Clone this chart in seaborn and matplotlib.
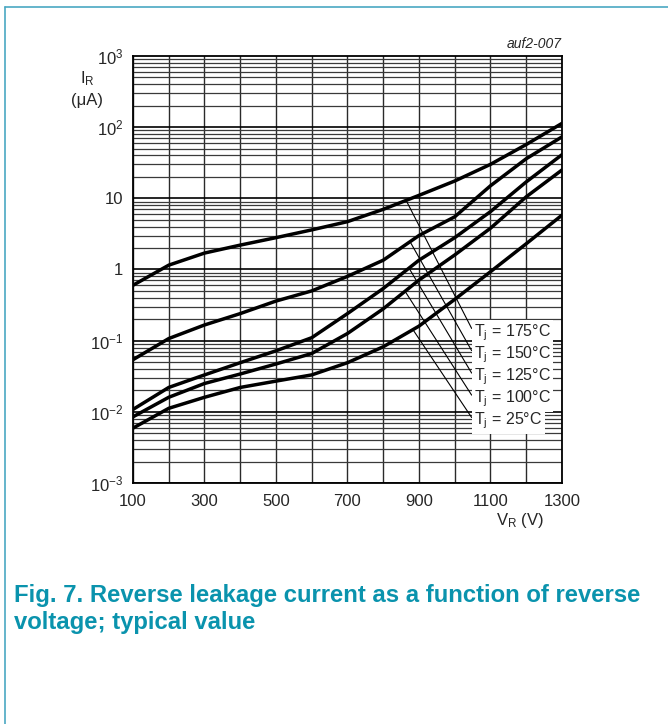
import numpy as np
import pandas as pd
import matplotlib
matplotlib.use('Agg')
import matplotlib.pyplot as plt
from matplotlib.lines import Line2D
import seaborn as sns

# ---------- DATA ----------
V_R = [100, 200, 300, 400, 500, 600, 700, 800, 900, 1000, 1100, 1200, 1300]
I_175 = [0.6, 1.15, 1.7, 2.2, 2.8, 3.6, 4.7, 7.0, 11, 17.5, 30, 57, 113]
I_150 = [0.054, 0.107, 0.166, 0.24, 0.36, 0.5, 0.8, 1.35, 3.0, 5.5, 15, 36, 73]
I_125 = [0.0108, 0.022, 0.033, 0.049, 0.072, 0.11, 0.24, 0.54, 1.35, 2.8, 6.5, 17, 41]
I_100 = [0.0085, 0.016, 0.025, 0.034, 0.047, 0.066, 0.126, 0.28, 0.71, 1.6, 3.8, 10.5, 25]
I_25 = [0.0059, 0.0112, 0.016, 0.022, 0.027, 0.033, 0.049, 0.082, 0.16, 0.38, 0.93, 2.3, 5.8]

temps = ['175', '150', '125', '100', '25']
series = [I_175, I_150, I_125, I_100, I_25]
# voltage where each leader line leaves its curve
leader_v = [864, 875, 872, 861, 883]

y_ticks = [1e-3, 1e-2, 1e-1, 1, 10, 1e2, 1e3]
y_ticklabels = ['10$^\\mathregular{-3}$', '10$^\\mathregular{-2}$', '10$^\\mathregular{-1}$',
                '1', '10', '10$^\\mathregular{2}$', '10$^\\mathregular{3}$']
x_ticks = [100, 300, 500, 700, 900, 1100, 1300]

TEAL = '#0a93ad'

df = pd.concat([pd.DataFrame({'V': V_R, 'I': s, 'T': t}) for t, s in zip(temps, series)])

# ---------- PLOT ----------
sns.set_style('white')
plt.rcParams['font.family'] = ['Liberation Sans', 'DejaVu Sans']
plt.rcParams['mathtext.fontset'] = 'custom'
plt.rcParams['mathtext.rm'] = 'Liberation Sans'
plt.rcParams['mathtext.it'] = 'Liberation Sans:italic'

fig = plt.figure(figsize=(6.68, 7.24), dpi=100)
ax = fig.add_axes([0.1991, 0.3329, 0.6422, 0.5898])

sns.lineplot(data=df, x='V', y='I', hue='T', palette=['black'] * 5,
             linewidth=2.5, legend=False, ax=ax, zorder=4)

ax.set_yscale('log')
ax.set_xlim(100, 1300)
ax.set_ylim(1e-3, 1e3)

# grid: every 100 V, log decades + minors
for v in range(100, 1301, 100):
    ax.axvline(v, color='#2a2a2a', lw=1.0, zorder=1)
for dec in range(-3, 3):
    for m in range(2, 10):
        ax.axhline(m * 10.0 ** dec, color='#3a3a3a', lw=0.9, zorder=1)
    ax.axhline(10.0 ** dec, color='black', lw=1.2, zorder=1)

ax.set_yticks(y_ticks)
ax.set_yticklabels(y_ticklabels)
ax.yaxis.set_minor_locator(matplotlib.ticker.NullLocator())
ax.set_xticks(x_ticks)
ax.set_xticklabels([str(x) for x in x_ticks])
ax.tick_params(axis='both', length=0, labelsize=12)
ax.tick_params(axis='y', pad=7)
ax.tick_params(axis='x', pad=8)
ax.set_xlabel('')
ax.set_ylabel('')
for sp in ax.spines.values():
    sp.set_color('black')
    sp.set_linewidth(1.3)
    sp.set_zorder(5)

ax.text(-0.107, 0.946, 'I$_\\mathregular{R}$', transform=ax.transAxes, ha='center', va='center', fontsize=12)
ax.text(-0.107, 0.895, '(μA)', transform=ax.transAxes, ha='center', va='center', fontsize=12)
ax.text(0.902, -0.087, 'V$_\\mathregular{R}$ (V)', transform=ax.transAxes, ha='center', va='center', fontsize=12)
ax.text(1.0, 1.012, 'auf2-007', transform=ax.transAxes, ha='right', va='bottom',
        fontsize=10, style='italic')

# temperature labels with leader lines
label_y = [0.351, 0.300, 0.248, 0.197, 0.145]
for t, s, lv, ly in zip(temps, series, leader_v, label_y):
    yv = 10 ** np.interp(lv, V_R, np.log10(s))
    ax.annotate('T$_\\mathregular{j}$ = ' + t + '°C', xy=(lv, yv), xycoords='data',
                xytext=(0.795, ly), textcoords='axes fraction',
                ha='left', va='center', fontsize=11.5, zorder=6,
                bbox=dict(boxstyle='square,pad=0.15', fc='white', ec='none'),
                arrowprops=dict(arrowstyle='-', color='black', lw=0.8,
                                shrinkA=0, shrinkB=0, relpos=(0, 0.5)))

# page frame + caption
fig.add_artist(Line2D([0.0075, 1.0], [0.9903, 0.9903], color='#4aa8c2', lw=1.2))
fig.add_artist(Line2D([0.0075, 0.0075], [0.0, 0.9903], color='#4aa8c2', lw=1.2))
fig.text(0.021, 0.1685, 'Fig. 7. Reverse leakage current as a function of reverse',
         fontsize=17.2, fontweight='bold', color=TEAL, va='baseline', ha='left')
fig.text(0.021, 0.1312, 'voltage; typical value',
         fontsize=17.2, fontweight='bold', color=TEAL, va='baseline', ha='left')

fig.savefig('out.png', dpi=100)
